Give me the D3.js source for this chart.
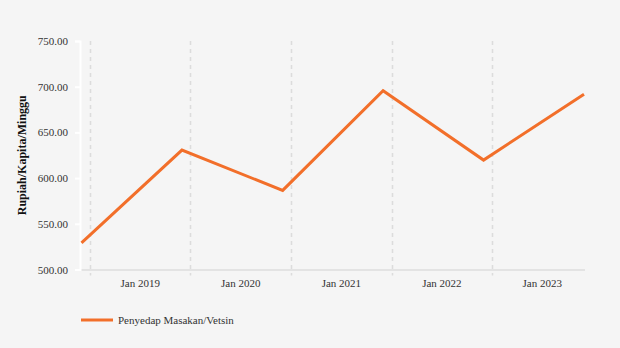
<!DOCTYPE html>
<html><head><meta charset="utf-8">
<script src="https://cdn.jsdelivr.net/npm/d3@7"></script>
<style>
html,body{margin:0;padding:0;background:#f5f5f5;}
svg{display:block;}
svg text{font-family:'Liberation Serif','DejaVu Serif',serif !important;}
</style></head>
<body><svg id="c" width="620" height="348"></svg>
<script>
const dates = ["2018-12-01","2019-12-01","2020-12-01","2021-12-01","2022-12-01","2023-12-01"];
const values = [529.1, 630.7, 586.5, 695.6, 619.7, 691.7];
const seriesName = "Penyedap Masakan/Vetsin";
const yTicks = [500, 550, 600, 650, 700, 750];
const xTickDates = ["2019-01-01","2020-01-01","2021-01-01","2022-01-01","2023-01-01"];
const yTitle = "Rupiah/Kapita/Minggu";

const FONT = "'Liberation Serif','DejaVu Serif',serif";
const parse = d3.utcParse("%Y-%m-%d");
const data = dates.map((d,i)=>({date:parse(d), value:values[i]}));
const svg = d3.select("#c");
const pL = 81.5, pR = 584, pT = 41, pB = 269.5;

const x = d3.scaleUtc().domain([parse(dates[0]), parse(dates[dates.length-1])]).range([pL, pR]);
const y = d3.scaleLinear().domain([500, 750]).range([pB, pT]);

svg.append("rect").attr("width",620).attr("height",348).attr("fill","#f5f5f5");

// vertical dashed gridlines
const ticks = xTickDates.map(parse);
svg.append("g").selectAll("line").data(ticks).join("line")
  .attr("x1",d=>Math.round(x(d))+0.5).attr("x2",d=>Math.round(x(d))+0.5)
  .attr("y1",pT).attr("y2",pB+6)
  .attr("stroke","#dcdcdc").attr("stroke-width",1.5).attr("stroke-dasharray","4,4");

// bottom axis line
svg.append("line").attr("x1",pL-1).attr("x2",pR+1).attr("y1",pB+0.5).attr("y2",pB+0.5)
  .attr("stroke","#e3e3e3").attr("stroke-width",2);

// x labels centered between ticks
const yearPx = x(parse("2020-01-01")) - x(parse("2019-01-01"));
svg.append("g").selectAll("text").data(ticks).join("text")
  .attr("x",d=>x(d)+yearPx/2).attr("y",287)
  .attr("text-anchor","middle").attr("font-size",11).attr("fill","#333").attr("font-family",FONT)
  .text(d=>d3.utcFormat("Jan %Y")(d));

// y axis
const yAxis = d3.axisLeft(y).tickValues(yTicks).tickFormat(d3.format(".2f")).tickSize(5).tickPadding(7);
const ga = svg.append("g").attr("transform",`translate(${pL-1.5},0)`).call(yAxis).attr("font-family",FONT);
ga.select(".domain").attr("stroke","#ffffff").attr("stroke-width",2);
ga.selectAll(".tick line").attr("stroke","#ffffff").attr("stroke-width",2);
ga.selectAll(".tick text").attr("font-size",11).attr("fill","#333").attr("font-family",FONT);

// y title
svg.append("text").attr("transform",`translate(26,${(pT+pB)/2}) rotate(-90)`)
  .attr("text-anchor","middle").attr("font-size",12).attr("font-weight","bold").attr("fill","#111")
  .attr("font-family",FONT).text(yTitle);

// line
svg.append("path").datum(data)
  .attr("d", d3.line().x(d=>x(d.date)).y(d=>y(d.value)))
  .attr("fill","none").attr("stroke","#f26f2a").attr("stroke-width",3).attr("stroke-linejoin","miter");

// legend
svg.append("line").attr("x1",81).attr("x2",113).attr("y1",320).attr("y2",320)
  .attr("stroke","#f26f2a").attr("stroke-width",3);
svg.append("text").attr("x",118).attr("y",324).attr("font-size",11).attr("fill","#333")
  .attr("font-family",FONT).text(seriesName);
</script></body></html>
